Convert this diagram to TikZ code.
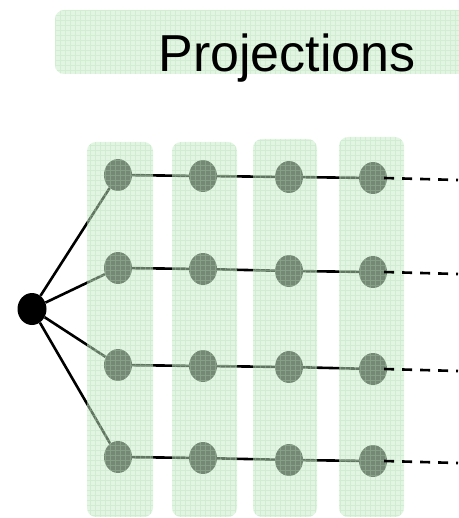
\documentclass[tikz,border=0pt]{standalone}
\usepackage{fontspec}
\setmainfont{Liberation Sans}
\usetikzlibrary{shapes.geometric}
\definecolor{colgreen}{RGB}{197,235,197}
\definecolor{gridgreen}{RGB}{170,222,170}
\definecolor{titlegreen}{RGB}{226,245,226}
\tikzset{
  unit/.style={ellipse, fill=black!85, minimum width=28pt, minimum height=32pt, inner sep=0pt},
  srcnode/.style={ellipse, fill=black, minimum width=29pt, minimum height=32pt, inner sep=0pt},
  link/.style={line width=2.6pt, black},
  proj/.style={line width=2.6pt, black, dash pattern=on 10pt off 8pt},
  colbox/.style={fill=colgreen, fill opacity=0.5, rounded corners=9pt},
  gridline/.style={draw=gridgreen, draw opacity=0.3, line width=0.5pt},
}
\newcommand{\greenbox}[5]{%
  \fill[#5] (#1,#2) rectangle (#3,#4);
  \begin{scope}
    \clip[rounded corners=9pt] (#1,#2) rectangle (#3,#4);
    \draw[gridline] (#1,#2) grid[step=5pt] (#3,#4);
  \end{scope}}
\begin{document}
\begin{tikzpicture}[x=1pt,y=-1pt]
\useasboundingbox (0,0) rectangle (458,518);
% title box
\greenbox{55}{10}{475}{74}{fill=titlegreen, rounded corners=9pt}
\node[anchor=base, font=\fontsize{52pt}{60pt}\selectfont, inner sep=0pt] (title) at (287,72) {Projections};
% nodes
\node[srcnode] (src) at (32,309) {};
\node[unit] (a1) at (118,175) {};
\node[unit] (b1) at (203,176) {};
\node[unit] (c1) at (289,177) {};
\node[unit] (d1) at (373,178) {};
\node[unit] (a2) at (118,268) {};
\node[unit] (b2) at (203,269) {};
\node[unit] (c2) at (289,271) {};
\node[unit] (d2) at (373,272) {};
\node[unit] (a3) at (118,365) {};
\node[unit] (b3) at (203,366) {};
\node[unit] (c3) at (289,367) {};
\node[unit] (d3) at (373,369) {};
\node[unit] (a4) at (118,457) {};
\node[unit] (b4) at (203,458) {};
\node[unit] (c4) at (289,460) {};
\node[unit] (d4) at (373,461) {};
% connectors
\foreach \r in {1,2,3,4}{
  \draw[link] (src) -- (a\r);
  \draw[link] (a\r) -- (b\r);
  \draw[link] (b\r) -- (c\r);
  \draw[link] (c\r) -- (d\r);
}
% columns (translucent, over nodes and links)
\greenbox{87}{142}{153}{517}{colbox}
\greenbox{172}{142}{237}{517}{colbox}
\greenbox{253}{139}{317}{517}{colbox}
\greenbox{339}{137}{404}{517}{colbox}
% projections
\coordinate (e1) at (458,180);
\coordinate (e2) at (458,274);
\coordinate (e3) at (458,371);
\coordinate (e4) at (458,463);
\foreach \r in {1,2,3,4}{
  \draw[proj] ([xshift=-3pt]d\r.east) -- (e\r);
}
\end{tikzpicture}
\end{document}
